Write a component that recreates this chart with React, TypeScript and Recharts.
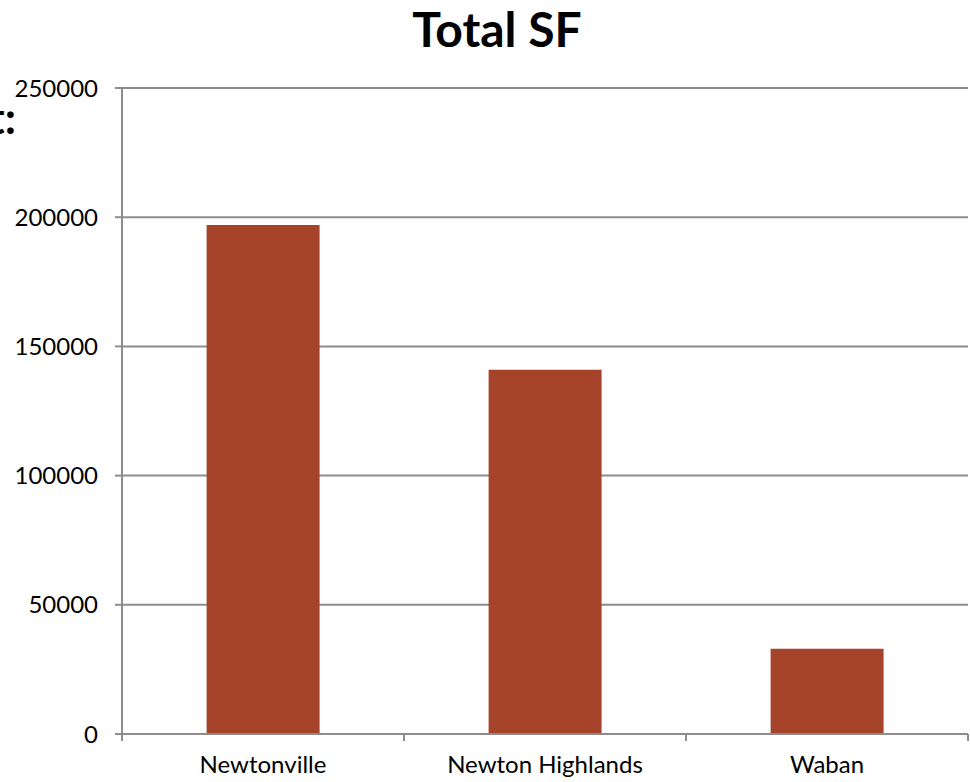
import { BarChart, Bar, XAxis, YAxis, CartesianGrid } from "recharts";

const categories = ["Newtonville", "Newton Highlands", "Waban"];
const totalSF = [197000, 141000, 33000];
const yTicks = [0, 50000, 100000, 150000, 200000, 250000];

const data = categories.map((name, i) => ({ name, total: totalSF[i] }));

const AXIS = "#8c8c8c";
const BAR = "#a5432b";
const FONT = "Lato, 'Open Sans', sans-serif";
const BAND = (968 - 122) / categories.length;

// category labels with tick marks on the band edges, like Excel
function EdgeTick(props: any) {
  const { x, y, payload, index } = props;
  const last = index === categories.length - 1;
  return (
    <g>
      <line x1={x - BAND / 2} x2={x - BAND / 2} y1={y - 8} y2={y - 1} stroke={AXIS} strokeWidth={2} />
      {last && (
        <line x1={x + BAND / 2} x2={x + BAND / 2} y1={y - 8} y2={y - 1} stroke={AXIS} strokeWidth={2} />
      )}
      <text x={x} y={y + 31} textAnchor="middle" fill="#000" fontSize={24} fontFamily={FONT}>
        {payload.value}
      </text>
    </g>
  );
}

export default function App() {
  return (
    <div style={{ position: "absolute", left: 0, top: 0, width: 970, height: 782, background: "#fff", overflow: "hidden" }}>
      <div
        style={{
          position: "absolute",
          left: 0,
          width: 994,
          top: 4,
          textAlign: "center",
          fontFamily: FONT,
          fontWeight: 700,
          fontSize: 48,
          lineHeight: "50px",
          color: "#000",
        }}
      >
        Total SF
      </div>
      <div
        style={{
          position: "absolute",
          right: 954,
          top: 86,
          fontFamily: FONT,
          fontWeight: 700,
          fontSize: 44,
          lineHeight: "62px",
          whiteSpace: "nowrap",
          color: "#000",
        }}
      >
        Subject:
      </div>
      <BarChart
        width={970}
        height={782}
        data={data}
        margin={{ top: 88, right: 2, bottom: 0, left: 0 }}
        barCategoryGap="30%"
      >
        <CartesianGrid vertical={false} stroke={AXIS} strokeWidth={2} />
        <XAxis
          dataKey="name"
          height={48}
          axisLine={{ stroke: AXIS, strokeWidth: 2 }}
          tickLine={false}
          interval={0}
          tick={<EdgeTick />}
        />
        <YAxis
          width={122}
          domain={[0, 250000]}
          ticks={yTicks}
          interval={0}
          tickSize={7}
          tickMargin={17}
          axisLine={{ stroke: AXIS, strokeWidth: 2 }}
          tickLine={{ stroke: AXIS, strokeWidth: 2 }}
          tick={{ fill: "#000", fontSize: 24, fontFamily: FONT }}
        />
        <Bar dataKey="total" fill={BAR} isAnimationActive={false} />
      </BarChart>
    </div>
  );
}
